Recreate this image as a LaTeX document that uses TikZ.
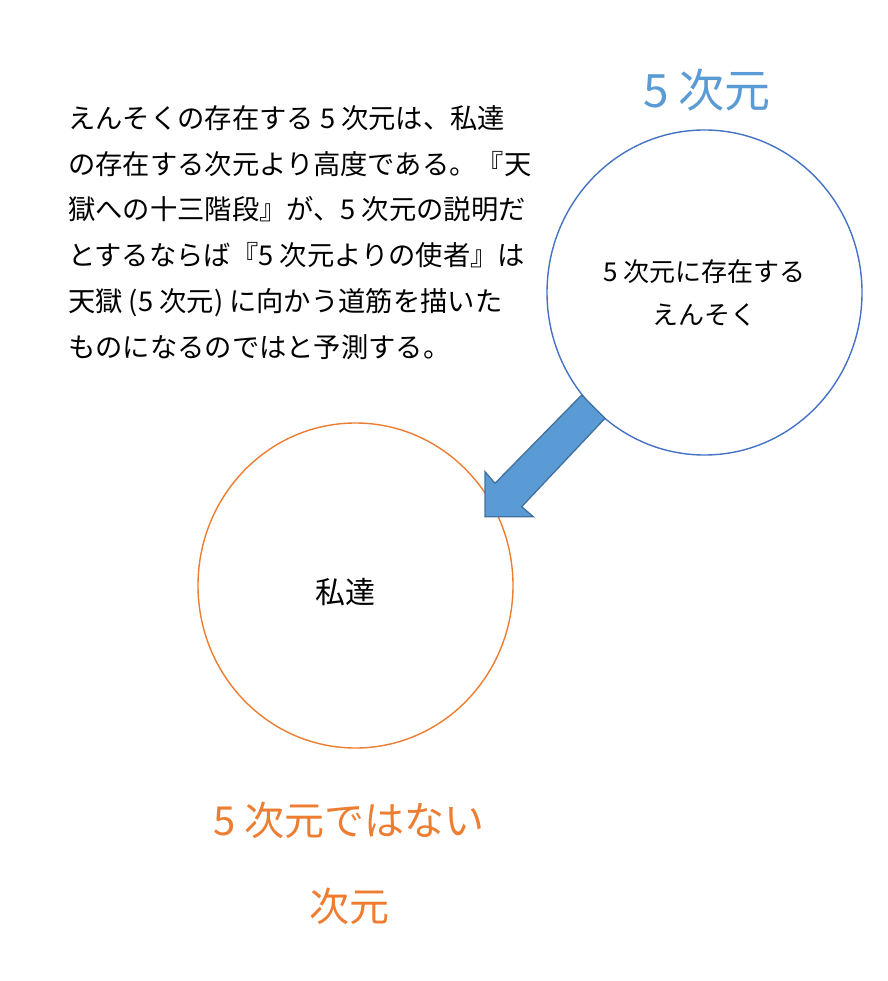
\documentclass[tikz,border=0pt]{standalone}
\usepackage{fontspec}
\setmainfont{Noto Sans CJK JP}
\usetikzlibrary{shapes.geometric}
\definecolor{ringblue}{HTML}{4472C4}
\definecolor{ringorange}{HTML}{ED7D31}
\definecolor{arrowfill}{HTML}{5B9BD5}
\definecolor{arrowline}{HTML}{41719C}

\begin{document}
\begin{tikzpicture}[x=1pt,y=-1pt,
	ring/.style={ellipse,draw,line width=1.4pt,minimum width=315pt,minimum height=325pt,inner sep=0pt,align=center},
	para/.style={inner sep=0pt,align=left,font=\fontsize{27.3}{45.8}\selectfont},
	title/.style={inner sep=0pt,font=\fontsize{#1}{#1}\selectfont}]
	\useasboundingbox (0,0) rectangle (887,981);
	\node[para,anchor=west] (desc) at (68,232.5) {えんそくの存在する 5 次元は、私達\\の存在する次元より高度である。『天\\獄への十三階段』が、5 次元の説明だ\\とするならば『5 次元よりの使者』は\\天獄 (5 次元) に向かう道筋を描いた\\ものになるのではと予測する。};
	\node[title=46,text=arrowfill] (fivedim) at (707,90) {5 次元};
	\node[ring,draw=ringblue,font=\fontsize{26}{43}\selectfont] (ensoku) at (704.5,292.5) {5 次元に存在する\\えんそく};
	\node[ring,draw=ringorange] (us) at (355.5,585.5) {};
	\node[title=30] (usname) at (345.5,592) {私達};
	\node[title=40,text=ringorange] (notfive) at (349,820) {5 次元ではない};
	\node[title=40,text=ringorange] (dim) at (349,906) {次元};
	% block arrow from the 5D ring to ours
	\filldraw[fill=arrowfill,draw=arrowline,line width=1.3pt,line join=miter]
	 (581.7,395) -- (495,483.3) -- (485,471.7) -- (485,516.7)
	 -- (533.3,516.7) -- (521.7,506.7) -- (605,418.3) -- cycle;
\end{tikzpicture}
\end{document}
